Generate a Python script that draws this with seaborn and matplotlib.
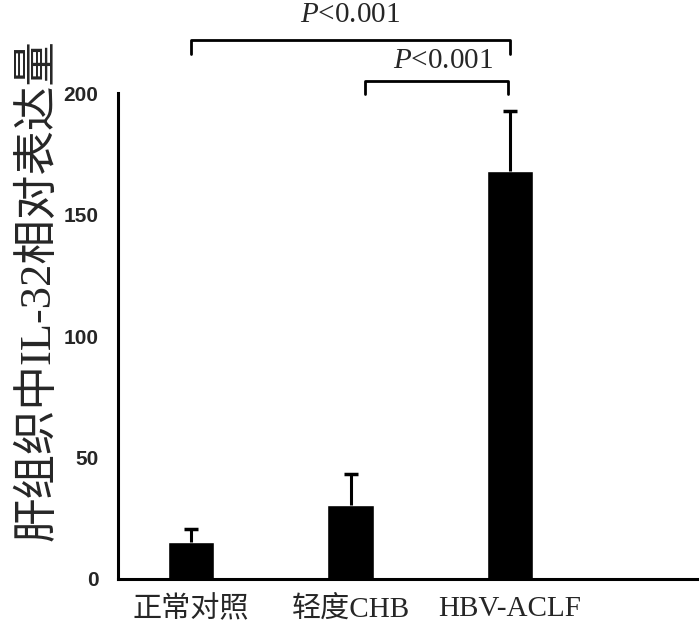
import pandas as pd
import matplotlib.pyplot as plt
import seaborn as sns

groups = ['正常对照', '轻度CHB', 'HBV-ACLF']
means = [15.2, 30.5, 168.0]
errors = [5.4, 12.7, 24.6]

# significance brackets: (left, right, height, drop, label_x, label_y)
brackets = [(0.0, 2.0, 222, 216, 1.0, 232),
            (1.09, 1.99, 205, 199.5, 1.58, 213)]
p_label = r'$\mathit{P}$<0.001'

sns.set_style('white')
plt.rcParams['font.family'] = ['Liberation Serif', 'Noto Sans CJK SC', 'DejaVu Sans']
plt.rcParams['mathtext.fontset'] = 'custom'
plt.rcParams['mathtext.it'] = 'Liberation Serif:italic'

df = pd.DataFrame({'group': groups, 'value': means})

fig = plt.figure(figsize=(7, 6.27), dpi=100)
ax = fig.add_axes([0.1686, 0.0766, 0.827, 0.775])

sns.barplot(x='group', y='value', data=df, color='black', width=0.29,
            errorbar=None, saturation=1, ax=ax)
eb = ax.errorbar(range(len(groups)), means, yerr=[[0] * len(groups), errors],
                 fmt='none', ecolor='black', elinewidth=2.2, capsize=5, capthick=2.5)
# only the upper half of the error bar is shown
eb[1][0].set_visible(False)

ax.set_xlim(-0.458, 3.172)
ax.set_ylim(0, 200)
ax.set_yticks([0, 50, 100, 150, 200])
ax.set_yticklabels(['0', '50', '100', '150', '200'],
                   fontfamily='Liberation Sans', fontweight='bold', fontsize=15)
ax.set_xticks(range(len(groups)))
ax.set_xticklabels(groups, fontsize=21)
ax.set_xticks([i + 0.145 for i in range(len(groups))], minor=True)
ax.tick_params(axis='x', which='major', length=0, pad=12)
ax.tick_params(axis='x', which='minor', length=5, width=1, color='#777777')
ax.tick_params(axis='y', length=5, width=2, pad=9)

for side in ['top', 'right']:
    ax.spines[side].set_visible(False)
for side in ['left', 'bottom']:
    ax.spines[side].set_linewidth(2.2)
    ax.spines[side].set_color('black')

ax.set_xlabel('')
ax.set_ylabel('肝组织中IL-32相对表达量', fontsize=32, va='center')
ax.yaxis.set_label_coords(-0.138, 0.595)

for x0, x1, h, d, tx, ty in brackets:
    ax.plot([x0, x0, x1, x1], [d, h, h, d], color='black', lw=2, clip_on=False)
    ax.text(tx, ty, p_label, ha='center', va='center', fontsize=21)

plt.savefig('out.png', dpi=100)
plt.close()
